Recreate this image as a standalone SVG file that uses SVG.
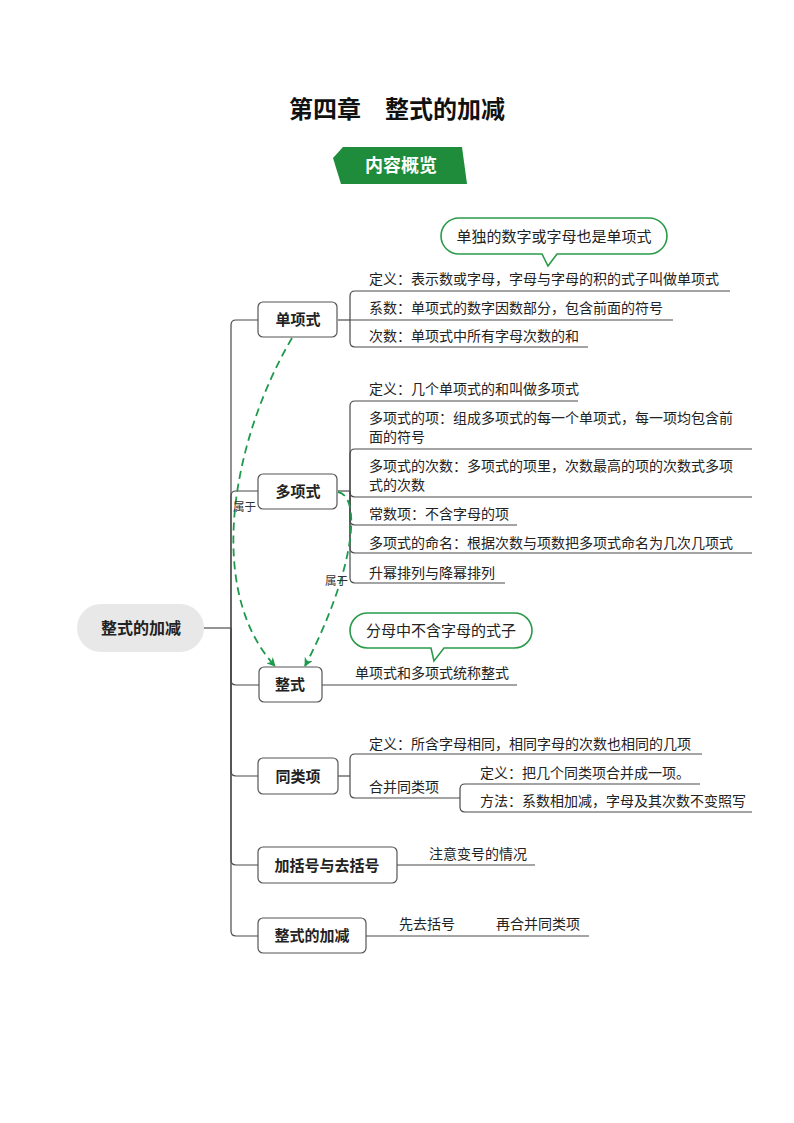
<svg xmlns="http://www.w3.org/2000/svg" width="794" height="1123" viewBox="0 0 794 1123">
<style>
text{font-family:"Noto Sans CJK SC","Liberation Sans",sans-serif;fill:#222}
.ln{fill:none;stroke:#4a4a4a;stroke-width:1.2}
.box{fill:#fff;stroke:#555;stroke-width:1.2}
.nt{font-size:15px;font-weight:bold;text-anchor:middle}
.t{font-size:14px}
.lbl{font-size:11.5px;fill:#333}
.dash{fill:none;stroke:#1d9a4c;stroke-width:1.8;stroke-dasharray:8 5}
.bub{fill:#fff;stroke:#2a9a4a;stroke-width:1.6}
.bt{font-size:15px;text-anchor:middle}
</style>
<defs>
<marker id="arr" viewBox="0 0 10 10" refX="9" refY="5" markerWidth="9" markerHeight="9" markerUnits="userSpaceOnUse" orient="auto">
<path d="M0,0 L10,5 L0,10 L3,5 Z" fill="#1d9a4c"/>
</marker>
</defs>

<text x="397" y="118" text-anchor="middle" style="font-size:24px;font-weight:bold;fill:#111">第四章　整式的加减</text>

<g id="banner">
<polygon points="343,147 462,147 467,184 341,184 333,158" fill="#1e8c3a"/>
<text x="401" y="172" text-anchor="middle" style="font-size:18px;font-weight:bold;fill:#fff">内容概览</text>
</g>

<g id="connectors">
<path class="ln" d="M204,628 H231"/>
<path class="ln" d="M231,628 V325 Q231,320 236,320 H258"/>
<path class="ln" d="M231,628 V496 Q231,491 236,491 H258"/>
<path class="ln" d="M231,628 V680 Q231,685 236,685 H259"/>
<path class="ln" d="M231,628 V771 Q231,776 236,776 H258"/>
<path class="ln" d="M231,628 V860 Q231,865 236,865 H258"/>
<path class="ln" d="M231,628 V931 Q231,936 236,936 H258"/>
<!-- 单项式 -->
<path class="ln" d="M338,320 H350"/>
<path class="ln" d="M350,320 V296 Q350,291 355,291 H730"/>
<path class="ln" d="M350,320 H673"/>
<path class="ln" d="M350,320 V342 Q350,347 355,347 H588"/>
<!-- 多项式 -->
<path class="ln" d="M338,491 H350"/>
<path class="ln" d="M350,491 V406 Q350,401 355,401 H578"/>
<path class="ln" d="M350,491 V454 Q350,449 355,449 H752"/>
<path class="ln" d="M350,491 V492 Q350,497 355,497 H752"/>
<path class="ln" d="M350,491 V520 Q350,525 355,525 H517"/>
<path class="ln" d="M350,491 V548 Q350,553 355,553 H752"/>
<path class="ln" d="M350,491 V578 Q350,583 355,583 H505"/>
<!-- 整式 -->
<path class="ln" d="M322,685 H517"/>
<!-- 同类项 -->
<path class="ln" d="M338,776 H350"/>
<path class="ln" d="M350,776 V759 Q350,754 355,754 H702"/>
<path class="ln" d="M350,776 V793 Q350,798 355,798 H460"/>
<path class="ln" d="M460,798 V789 Q460,784 465,784 H700"/>
<path class="ln" d="M460,798 V807 Q460,812 465,812 H752"/>
<!-- 加括号 / 整式的加减 -->
<path class="ln" d="M397,865 H535"/>
<path class="ln" d="M366,936 H589"/>
<!-- 属于 -->
<path class="dash" d="M292,338 C232,440 205,590 275,666" marker-end="url(#arr)"/>
<path class="dash" d="M338,492 C362,496 355,570 305,666" marker-end="url(#arr)"/>
<text class="lbl" x="233" y="511">属于</text>
<text class="lbl" x="325" y="585">属于</text>
</g>

<g id="root">
<rect x="77" y="604" width="127" height="48" rx="24" fill="#e8e8e8"/>
<text x="141" y="634" text-anchor="middle" style="font-size:16px;font-weight:bold">整式的加减</text>
</g>

<g id="n-danxiangshi">
<rect class="box" x="258" y="302" width="79" height="35" rx="5"/>
<text class="nt" x="298" y="325">单项式</text>
</g>
<g id="n-danxiangshi-children">
<text class="t" x="369" y="284">定义：表示数或字母，字母与字母的积的式子叫做单项式</text>
<text class="t" x="369" y="313">系数：单项式的数字因数部分，包含前面的符号</text>
<text class="t" x="369" y="341">次数：单项式中所有字母次数的和</text>
</g>
<g id="bubble1">
<path class="bub" d="M459,218 H649 A18,18 0 0 1 667,236 A18,18 0 0 1 649,254 H557 L548,266 L542,254 H459 A18,18 0 0 1 441,236 A18,18 0 0 1 459,218 Z"/>
<text class="bt" x="554" y="242">单独的数字或字母也是单项式</text>
</g>

<g id="n-duoxiangshi">
<rect class="box" x="258" y="474" width="79" height="35" rx="5"/>
<text class="nt" x="298" y="497">多项式</text>
</g>
<g id="n-duoxiangshi-children">
<text class="t" x="369" y="394">定义：几个单项式的和叫做多项式</text>
<text class="t" x="369" y="423">多项式的项：组成多项式的每一个单项式，每一项均包含前</text>
<text class="t" x="369" y="442">面的符号</text>
<text class="t" x="369" y="471">多项式的次数：多项式的项里，次数最高的项的次数式多项</text>
<text class="t" x="369" y="490">式的次数</text>
<text class="t" x="369" y="519">常数项：不含字母的项</text>
<text class="t" x="369" y="548">多项式的命名：根据次数与项数把多项式命名为几次几项式</text>
<text class="t" x="369" y="578">升幂排列与降幂排列</text>
</g>

<g id="bubble2">
<path class="bub" d="M367.5,613 H514.5 A17.5,17.5 0 0 1 532,630.5 A17.5,17.5 0 0 1 514.5,648 H444 L434,661 L431,648 H367.5 A17.5,17.5 0 0 1 350,630.5 A17.5,17.5 0 0 1 367.5,613 Z"/>
<text class="bt" x="441" y="636">分母中不含字母的式子</text>
</g>

<g id="n-zhengshi">
<rect class="box" x="259" y="667" width="63" height="35" rx="5"/>
<text class="nt" x="290" y="690">整式</text>
<text class="t" x="355" y="678">单项式和多项式统称整式</text>
</g>

<g id="n-tongleixiang">
<rect class="box" x="258" y="758" width="80" height="36" rx="5"/>
<text class="nt" x="298" y="782">同类项</text>
<text class="t" x="369" y="749">定义：所含字母相同，相同字母的次数也相同的几项</text>
<text class="t" x="369" y="792">合并同类项</text>
<text class="t" x="480" y="778">定义：把几个同类项合并成一项。</text>
<text class="t" x="480" y="806">方法：系数相加减，字母及其次数不变照写</text>
</g>

<g id="n-kuohao">
<rect class="box" x="258" y="847" width="139" height="36" rx="5"/>
<text class="nt" x="327" y="871">加括号与去括号</text>
<text class="t" x="429" y="859">注意变号的情况</text>
</g>

<g id="n-jiajian">
<rect class="box" x="258" y="918" width="108" height="35" rx="5"/>
<text class="nt" x="312" y="941">整式的加减</text>
<text class="t" x="399" y="929">先去括号</text>
<text class="t" x="496" y="929">再合并同类项</text>
</g>
</svg>
